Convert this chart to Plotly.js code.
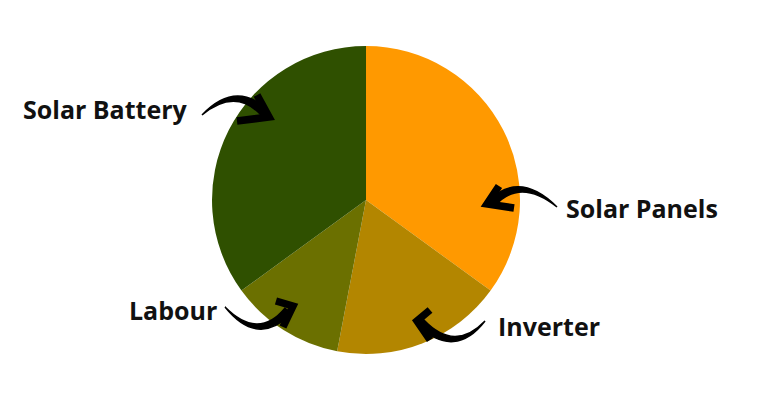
<!DOCTYPE html>
<html>
<head>
<meta charset="utf-8">
<script src="https://cdn.plot.ly/plotly-3.0.1.min.js"></script>
<style>html,body{margin:0;padding:0;background:#fff;}#chart{width:780px;height:400px;}</style>
</head>
<body>
<div id="chart"></div>
<script>
const categories = ["Solar Panels", "Inverter", "Labour", "Solar Battery"];
const values = [35, 18, 12, 35];
const colors = ["#FF9900", "#B38600", "#6B7000", "#2F5000"];

const W = 780, H = 400;
function px(x, y) { return (x / W).toFixed(4) + "," + (1 - y / H).toFixed(4); }

// label positions (pixels) and decorative arrows
const labelPos = {
  "Solar Panels": [642, 208],
  "Inverter": [549, 326],
  "Labour": [173, 310],
  "Solar Battery": [106, 109]
};
const arrows = [
  {tail:[202,115], ctrl:[235,84], end:[264,112], tip:[269,117], a1:[257,95], a2:[237,121]},
  {tail:[557,207], ctrl:[520,174], end:[492,203], tip:[487,204], a1:[499,186], a2:[514,208]},
  {tail:[225,307], ctrl:[258,344], end:[288,311], tip:[293,306], a1:[276,301], a2:[283,327]},
  {tail:[485,321], ctrl:[455,356], end:[421,323], tip:[417,321], a1:[430,310], a2:[430,340]}
];

function taperBody(a) {
  const [tx, ty] = a.tail, [cx, cy] = a.ctrl, [ex, ey] = a.end;
  // normal at end
  let dx = ex - cx, dy = ey - cy, l = Math.hypot(dx, dy);
  const nex = -dy / l, ney = dx / l;
  // normal at control (chord direction)
  dx = ex - tx; dy = ey - ty; l = Math.hypot(dx, dy);
  const ncx = -dy / l, ncy = dx / l;
  const we = 4.2, wc = 3.6;
  return "M" + px(tx, ty) +
    " Q" + px(cx + ncx * wc, cy + ncy * wc) + " " + px(ex + nex * we, ey + ney * we) +
    " L" + px(ex - nex * we, ey - ney * we) +
    " Q" + px(cx - ncx * wc, cy - ncy * wc) + " " + px(tx, ty) + " Z";
}

const shapes = [];
arrows.forEach(a => {
  shapes.push({type:"path", xref:"paper", yref:"paper", path:taperBody(a),
    fillcolor:"#000", line:{color:"#000", width:1.5}});
  shapes.push({type:"path", xref:"paper", yref:"paper",
    path:"M" + px(a.a1[0],a.a1[1]) + " L" + px(a.tip[0],a.tip[1]) + " L" + px(a.a2[0],a.a2[1]),
    line:{color:"#000", width:7.5}});
});

const annotations = categories.map(c => ({
  text: c, xref:"paper", yref:"paper",
  x: labelPos[c][0] / W, y: 1 - labelPos[c][1] / H,
  xanchor:"center", yanchor:"middle", showarrow:false,
  font:{family:"'Open Sans', sans-serif", size:25, color:"#111111", weight:"bold"}
}));

const data = [{
  type:"pie", labels:categories, values:values, sort:false, direction:"clockwise", rotation:0,
  marker:{colors:colors, line:{width:0}}, textinfo:"none", hoverinfo:"label+percent",
  domain:{x:[0.2641,0.6744], y:[0.115,0.885]}
}];

const layout = {
  width:W, height:H, margin:{l:0,r:0,t:0,b:0}, showlegend:false,
  paper_bgcolor:"#fff", plot_bgcolor:"#fff",
  shapes:shapes, annotations:annotations
};
Plotly.newPlot("chart", data, layout, {displayModeBar:false, staticPlot:true});
</script>
</body>
</html>
